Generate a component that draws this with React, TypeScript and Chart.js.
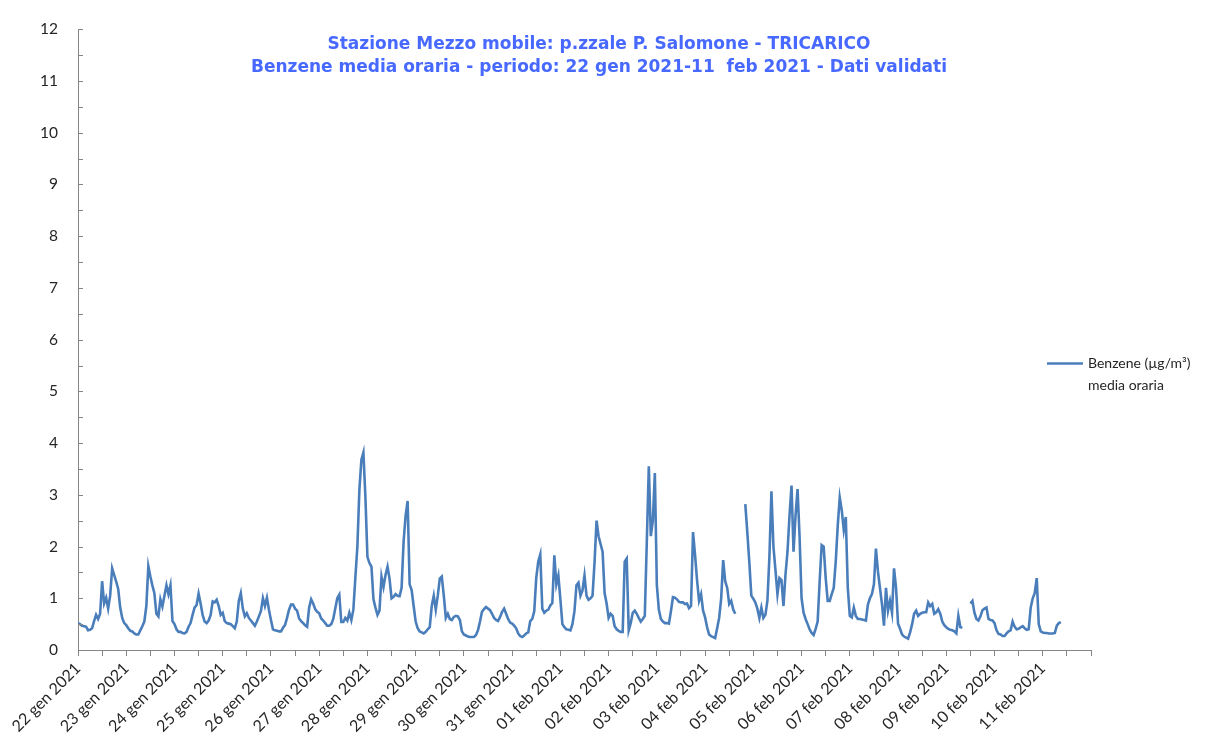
import React, { useEffect, useRef } from 'react';
import { Chart, registerables } from 'chart.js';

Chart.register(...registerables);

// ---- data (hourly benzene values, µg/m³) ----
const dayLabels = [
  '22 gen 2021', '23 gen 2021', '24 gen 2021', '25 gen 2021', '26 gen 2021',
  '27 gen 2021', '28 gen 2021', '29 gen 2021', '30 gen 2021', '31 gen 2021',
  '01 feb 2021', '02 feb 2021', '03 feb 2021', '04 feb 2021', '05 feb 2021',
  '06 feb 2021', '07 feb 2021', '08 feb 2021', '09 feb 2021', '10 feb 2021',
  '11 feb 2021',
];

const gen22 = [0.52, 0.50, 0.47, 0.46, 0.45, 0.38, 0.39, 0.42, 0.56, 0.68, 0.60, 0.70, 1.33, 0.90, 1.01, 0.80, 1.05, 1.58, 1.45, 1.32, 1.18, 0.82, 0.62, 0.52];
const gen23 = [0.48, 0.42, 0.37, 0.36, 0.32, 0.30, 0.30, 0.38, 0.46, 0.55, 0.85, 1.62, 1.42, 1.25, 1.10, 0.70, 0.65, 0.98, 0.84, 1.05, 1.25, 1.08, 1.25, 0.56];
const gen24 = [0.50, 0.40, 0.35, 0.35, 0.33, 0.32, 0.35, 0.45, 0.52, 0.68, 0.82, 0.87, 1.09, 0.90, 0.68, 0.55, 0.52, 0.57, 0.68, 0.94, 0.92, 0.97, 0.85, 0.68];
const gen25 = [0.72, 0.56, 0.52, 0.51, 0.50, 0.46, 0.42, 0.55, 0.95, 1.10, 0.80, 0.65, 0.71, 0.62, 0.57, 0.52, 0.47, 0.55, 0.65, 0.75, 1.00, 0.85, 1.01, 0.78];
const gen26 = [0.58, 0.40, 0.38, 0.37, 0.36, 0.36, 0.43, 0.48, 0.62, 0.78, 0.88, 0.88, 0.80, 0.76, 0.61, 0.56, 0.52, 0.48, 0.45, 0.82, 0.98, 0.90, 0.79, 0.74];
const gen27 = [0.71, 0.61, 0.57, 0.52, 0.47, 0.47, 0.50, 0.60, 0.80, 1.00, 1.07, 0.54, 0.54, 0.62, 0.57, 0.72, 0.58, 0.78, 1.40, 2.00, 3.10, 3.68, 3.82, 2.95];
const gen28 = [1.80, 1.68, 1.61, 0.98, 0.82, 0.68, 0.76, 1.42, 1.22, 1.45, 1.61, 1.38, 1.00, 1.03, 1.08, 1.05, 1.04, 1.20, 2.10, 2.60, 2.88, 1.27, 1.16, 0.85];
const gen29 = [0.55, 0.42, 0.36, 0.34, 0.32, 0.35, 0.40, 0.44, 0.85, 1.05, 0.78, 1.05, 1.38, 1.42, 1.05, 0.62, 0.70, 0.60, 0.58, 0.64, 0.66, 0.65, 0.58, 0.36];
const gen30 = [0.30, 0.28, 0.26, 0.25, 0.25, 0.25, 0.29, 0.38, 0.55, 0.74, 0.79, 0.83, 0.80, 0.77, 0.70, 0.62, 0.58, 0.56, 0.64, 0.74, 0.80, 0.70, 0.60, 0.53];
const gen31 = [0.51, 0.47, 0.42, 0.32, 0.27, 0.25, 0.28, 0.32, 0.34, 0.56, 0.60, 0.75, 1.40, 1.71, 1.85, 0.80, 0.72, 0.76, 0.78, 0.86, 0.91, 1.83, 1.27, 1.44];
const feb01 = [0.98, 0.50, 0.44, 0.40, 0.39, 0.38, 0.50, 0.75, 1.25, 1.30, 1.05, 1.15, 1.44, 1.05, 0.97, 1.00, 1.05, 1.70, 2.50, 2.20, 2.05, 1.90, 1.10, 0.90];
const feb02 = [0.62, 0.70, 0.66, 0.46, 0.40, 0.37, 0.35, 0.35, 1.71, 1.77, 0.38, 0.52, 0.72, 0.76, 0.70, 0.62, 0.55, 0.60, 0.66, 2.10, 3.55, 2.20, 2.50, 3.42];
const feb03 = [1.25, 0.78, 0.60, 0.55, 0.52, 0.52, 0.51, 0.75, 1.02, 1.01, 0.98, 0.93, 0.92, 0.92, 0.89, 0.90, 0.81, 0.85, 2.28, 1.84, 1.35, 0.95, 1.08, 0.76];
const feb04 = [0.63, 0.44, 0.30, 0.27, 0.25, 0.23, 0.42, 0.62, 1.00, 1.74, 1.33, 1.20, 0.89, 0.95, 0.78, 0.70, null, null, null, null, 2.82, 2.28, 1.70, 1.05];
const feb05 = [0.99, 0.92, 0.80, 0.62, 0.82, 0.62, 0.68, 0.95, 1.80, 3.07, 2.00, 1.55, 1.08, 1.39, 1.35, 0.85, 1.46, 1.90, 2.60, 3.18, 1.90, 2.60, 3.11, 2.20];
const feb06 = [1.00, 0.72, 0.60, 0.50, 0.40, 0.33, 0.29, 0.41, 0.55, 1.33, 2.03, 2.00, 1.39, 0.95, 0.95, 1.08, 1.20, 1.71, 2.41, 2.95, 2.70, 2.32, 2.57, 1.20];
const feb07 = [0.66, 0.63, 0.82, 0.66, 0.60, 0.60, 0.59, 0.58, 0.57, 0.88, 1.00, 1.08, 1.27, 1.96, 1.52, 1.20, 0.89, 0.47, 1.20, 0.76, 0.95, 0.72, 1.58, 1.20];
const feb08 = [0.51, 0.41, 0.30, 0.26, 0.24, 0.22, 0.34, 0.50, 0.70, 0.76, 0.66, 0.70, 0.72, 0.73, 0.73, 0.92, 0.85, 0.89, 0.70, 0.73, 0.79, 0.70, 0.55, 0.48];
const feb09 = [0.44, 0.41, 0.39, 0.38, 0.36, 0.32, 0.66, 0.44, 0.43, null, null, null, 0.90, 0.95, 0.72, 0.60, 0.57, 0.65, 0.77, 0.80, 0.82, 0.60, 0.58, 0.57];
const feb10 = [0.52, 0.38, 0.31, 0.30, 0.27, 0.27, 0.32, 0.36, 0.38, 0.55, 0.45, 0.40, 0.41, 0.44, 0.46, 0.42, 0.39, 0.40, 0.82, 1.00, 1.10, 1.39, 0.50, 0.36];
const feb11 = [0.34, 0.33, 0.33, 0.32, 0.32, 0.32, 0.33, 0.47, 0.52, 0.54];

const hourlyByDay = [gen22, gen23, gen24, gen25, gen26, gen27, gen28, gen29, gen30, gen31,
  feb01, feb02, feb03, feb04, feb05, feb06, feb07, feb08, feb09, feb10, feb11];

const seriesName = ['Benzene (µg/m³)', 'media oraria'];
const titleLines = [
  'Stazione Mezzo mobile: p.zzale P. Salomone - TRICARICO',
  'Benzene media oraria - periodo: 22 gen 2021-11  feb 2021 - Dati validati',
];
const yMin = 0;
const yMax = 12;
const yStep = 0.5;
const hoursPerDay = 24;
const totalDays = 21;

const LINE_COLOR = '#4A7EBB';
const AXIS_COLOR = '#868686';
const TEXT_COLOR = '#262626';
const TITLE_COLOR = '#4769FF';
const TITLE_WIDTH = 554;

function buildPoints() {
  const pts: { x: number; y: number | null }[] = [];
  hourlyByDay.forEach((day, d) => {
    day.forEach((v, h) => {
      pts.push({ x: d * hoursPerDay + h, y: v });
    });
  });
  return pts;
}

const innerYTicks = {
  id: 'innerYTicks',
  afterDraw(chart: any) {
    const y = chart.scales.y;
    const { ctx, chartArea } = chart;
    ctx.save();
    ctx.strokeStyle = AXIS_COLOR;
    ctx.lineWidth = 1;
    y.ticks.forEach((t: any) => {
      const py = Math.round(y.getPixelForValue(t.value)) + 0.5;
      ctx.beginPath();
      ctx.moveTo(chartArea.left, py);
      ctx.lineTo(chartArea.left + 5, py);
      ctx.stroke();
    });
    ctx.restore();
  },
};

const titleAndLegend = {
  id: 'titleAndLegend',
  afterDraw(chart: any) {
    const { ctx } = chart;
    ctx.save();
    ctx.fillStyle = TITLE_COLOR;
    const family = '"DejaVu Sans", sans-serif';
    ctx.font = `bold 16px ${family}`;
    const w = ctx.measureText(titleLines[0]).width;
    const size = Math.min(17, (16 * TITLE_WIDTH) / w);
    ctx.font = `bold ${size.toFixed(2)}px ${family}`;
    ctx.textAlign = 'center';
    ctx.textBaseline = 'middle';
    ctx.fillText(titleLines[0], 599, 45);
    ctx.fillText(titleLines[1], 599, 68);

    // legend
    ctx.strokeStyle = LINE_COLOR;
    ctx.lineWidth = 2.5;
    ctx.beginPath();
    ctx.moveTo(1047, 363.5);
    ctx.lineTo(1083, 363.5);
    ctx.stroke();
    ctx.fillStyle = TEXT_COLOR;
    ctx.font = '14px Lato, sans-serif';
    ctx.textAlign = 'left';
    ctx.fillText(seriesName[0], 1088, 363);
    ctx.fillText(seriesName[1], 1088, 385);
    ctx.restore();
  },
};

export default function App() {
  const canvasRef = useRef<HTMLCanvasElement | null>(null);

  useEffect(() => {
    document.body.style.margin = '0';
    const canvas = canvasRef.current;
    if (!canvas) return;
    const chart = new Chart(canvas, {
      type: 'line',
      data: {
        datasets: [
          {
            label: seriesName.join(' '),
            data: buildPoints() as any,
            borderColor: LINE_COLOR,
            backgroundColor: LINE_COLOR,
            borderWidth: 2.6,
            pointRadius: 0,
            tension: 0,
            spanGaps: false,
          },
        ],
      },
      options: {
        responsive: false,
        animation: false,
        layout: { padding: { left: 0, right: 127, top: 18, bottom: 0 } },
        plugins: {
          legend: { display: false },
          tooltip: { enabled: false },
          title: { display: false },
        },
        scales: {
          x: {
            type: 'linear',
            min: 0,
            max: totalDays * hoursPerDay,
            afterFit: (s: any) => { s.height = 86; },
            grid: {
              display: true,
              drawOnChartArea: false,
              drawTicks: true,
              tickLength: 6,
              color: AXIS_COLOR,
            },
            border: { display: true, color: AXIS_COLOR, width: 1 },
            ticks: {
              stepSize: 12,
              maxTicksLimit: 200,
              autoSkip: false,
              maxRotation: 45,
              minRotation: 45,
              padding: 3,
              color: TEXT_COLOR,
              font: { family: 'Lato, sans-serif', size: 16 },
              callback: (v: any) => {
                const n = Number(v);
                if (n % hoursPerDay !== 0) return '';
                const idx = n / hoursPerDay;
                return idx < dayLabels.length ? dayLabels[idx] : '';
              },
            },
          },
          y: {
            type: 'linear',
            min: yMin,
            max: yMax,
            afterFit: (s: any) => { s.width = 78; },
            grid: { display: false, drawTicks: false },
            border: { display: true, color: AXIS_COLOR, width: 1 },
            ticks: {
              stepSize: yStep,
              maxTicksLimit: 200,
              autoSkip: false,
              padding: 20,
              color: TEXT_COLOR,
              font: { family: 'Lato, sans-serif', size: 15.5 },
              callback: (v: any) => (Number.isInteger(Number(v)) ? String(v) : ''),
            },
          },
        },
      },
      plugins: [innerYTicks, titleAndLegend],
    });
    return () => chart.destroy();
  }, []);

  return (
    <div style={{ width: 1218, height: 736, background: '#fff' }}>
      <canvas ref={canvasRef} width={1218} height={736} />
    </div>
  );
}
